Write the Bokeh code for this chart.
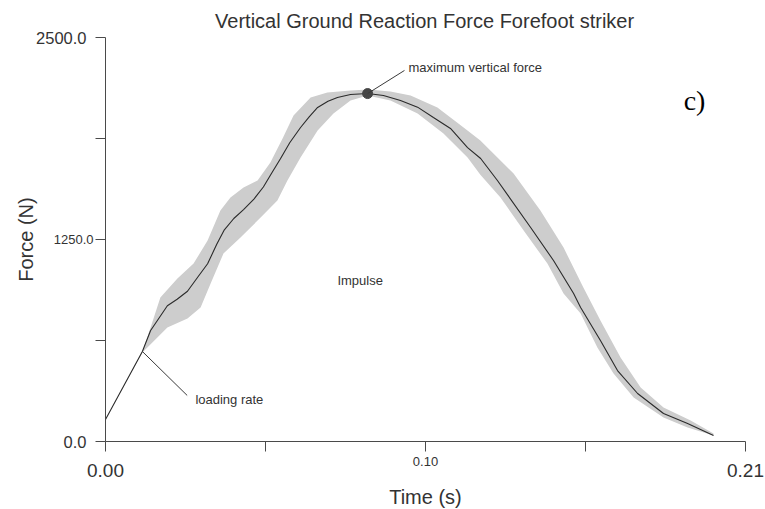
from bokeh.plotting import figure
from bokeh.models import Range1d, FixedTicker, Label, LinearAxis
from bokeh.embed import file_html
from bokeh.resources import INLINE

# Mean vertical ground reaction force (N) over time (s)
time_mean = [0.0, 0.0121, 0.0148, 0.0203, 0.0235, 0.0269, 0.0300, 0.0335, 0.0365, 0.0390,
             0.0421, 0.0453, 0.0487, 0.0518, 0.0545, 0.0574, 0.0605, 0.0640, 0.0669, 0.0696,
             0.0730, 0.0761, 0.0804, 0.0860, 0.0912, 0.0968, 0.1024, 0.1076, 0.1132, 0.1188,
             0.1231, 0.1286, 0.1395, 0.1470, 0.1536, 0.1559, 0.1624, 0.1680, 0.1746, 0.1831,
             0.1910, 0.1995]
force_mean = [136, 557, 687, 840, 880, 930, 1010, 1100, 1220, 1310,
              1380, 1435, 1500, 1575, 1660, 1750, 1850, 1943, 2010, 2067,
              2105, 2129, 2147, 2153, 2141, 2110, 2069, 2005, 1937, 1819,
              1751, 1615, 1324, 1120, 916, 829, 625, 439, 297, 173,
              111, 37]

# Outer (upper) edge of the variability band
time_upper = [0.0, 0.0121, 0.0148, 0.0180, 0.0236, 0.0289, 0.0335, 0.0377, 0.0410, 0.0453,
              0.0499, 0.0541, 0.0581, 0.0617, 0.0673, 0.0728, 0.0804, 0.0860, 0.0935, 0.1001,
              0.1089, 0.1175, 0.1230, 0.1339, 0.1427, 0.1503, 0.1568, 0.1624, 0.1690, 0.1756,
              0.1831, 0.1920, 0.1995]
force_upper = [136, 557, 705, 891, 1009, 1101, 1244, 1429, 1510, 1572,
               1615, 1726, 1875, 2017, 2129, 2160, 2172, 2178, 2166, 2141,
               2067, 1943, 1863, 1658, 1429, 1200, 953, 749, 520, 334,
               210, 130, 50]

# Inner (lower) edge of the variability band
time_lower = [0.0, 0.0121, 0.0203, 0.0269, 0.0312, 0.0345, 0.0387, 0.0443, 0.0509, 0.0564,
              0.0597, 0.0640, 0.0696, 0.0748, 0.0804, 0.0860, 0.0935, 0.1024, 0.1109, 0.1188,
              0.1230, 0.1296, 0.1372, 0.1450, 0.1503, 0.1559, 0.1614, 0.1667, 0.1733, 0.1831,
              0.1910, 0.1995]
force_lower = [136, 551, 705, 761, 829, 978, 1163, 1262, 1386, 1491,
               1615, 1757, 1924, 2030, 2110, 2141, 2110, 2030, 1906, 1757,
               1650, 1510, 1306, 1101, 916, 792, 582, 421, 272, 149,
               87, 37]

peak_time = [0.0860]
peak_force = [2153]

x_ticks = [0.0, 0.0525, 0.105, 0.1575, 0.21]
x_tick_labels = {0.0: "0.00", 0.0525: "", 0.105: "", 0.1575: "", 0.21: "0.21"}
x_mid_tick = [0.105]
x_mid_label = {0.105: "0.10"}
y_ticks = [0, 625, 1250, 1875, 2500]
y_tick_labels = {0: "0.0", 625: "", 1250: "", 1875: "", 2500: "2500.0"}
y_mid_tick = [1250]
y_mid_label = {1250: "1250.0"}

T_MIN, T_MAX = 0.0, 0.21
F_MIN, F_MAX = 0.0, 2500.0

FONT = "Liberation Sans"
AX = "#4a4a4a"
TXT = "#333333"

# The frame covers the whole canvas; the data box (0..0.21 s, 0..2500 N)
# sits inside it with room left for the axes, which are pinned at 0.
W, H = 765, 509
L, R, TOP, BOT = 105, 20, 37, 68
sx = (T_MAX - T_MIN) / (W - L - R)
sy = (F_MAX - F_MIN) / (H - TOP - BOT)
p = figure(width=W, height=H, output_backend="svg", toolbar_location=None, title=None,
           x_range=Range1d(T_MIN - L * sx, T_MAX + R * sx),
           y_range=Range1d(F_MIN - BOT * sy, F_MAX + TOP * sy),
           x_axis_type=None, y_axis_type=None,
           min_border_left=0, min_border_right=0, min_border_top=0, min_border_bottom=0)
p.outline_line_color = None
p.grid.visible = False
p.background_fill_color = "white"
p.border_fill_color = "white"

band_x = time_upper + time_lower[::-1]
band_y = force_upper + force_lower[::-1]
p.patch(band_x, band_y, fill_color="#cdcdcd", line_color=None)
p.line(time_mean, force_mean, line_color="#2a2a2a", line_width=1.1)
p.scatter(peak_time, peak_force, size=10, color="#454545")

# annotation leader lines
p.segment(x0=[0.0121, 0.0860], y0=[557, 2153], x1=[0.0268, 0.0981], y1=[285, 2296],
          line_color="#3a3a3a", line_width=1)

def style(ax, size):
    ax.axis_line_color = AX
    ax.major_tick_line_color = AX
    ax.major_tick_in = 0
    ax.major_tick_out = 10
    ax.minor_tick_line_color = None
    ax.major_label_text_font = FONT
    ax.major_label_text_color = TXT
    ax.major_label_text_font_size = size
    ax.axis_label_text_font = FONT
    ax.axis_label_text_font_style = "normal"
    ax.axis_label_text_color = TXT
    ax.axis_label_text_font_size = "20px"
    ax.fixed_location = 0

xax = LinearAxis(ticker=FixedTicker(ticks=x_ticks), major_label_overrides=x_tick_labels,
                 axis_label="Time (s)", bounds=(T_MIN, T_MAX))
style(xax, "19px")
xax.major_label_standoff = 12
xax.axis_label_standoff = 6
p.add_layout(xax, "below")

xax2 = LinearAxis(ticker=FixedTicker(ticks=x_mid_tick), major_label_overrides=x_mid_label)
style(xax2, "13px")
xax2.axis_line_color = None
xax2.major_tick_line_color = None
xax2.major_label_standoff = 5
p.add_layout(xax2, "below")

yax = LinearAxis(ticker=FixedTicker(ticks=y_ticks), major_label_overrides=y_tick_labels,
                 axis_label="Force (N)", bounds=(F_MIN, F_MAX))
style(yax, "16.5px")
yax.major_label_standoff = 9
yax.axis_label_standoff = -4
p.add_layout(yax, "left")

yax2 = LinearAxis(ticker=FixedTicker(ticks=y_mid_tick), major_label_overrides=y_mid_label)
style(yax2, "13px")
yax2.axis_line_color = None
yax2.major_tick_line_color = None
yax2.major_label_standoff = 2
p.add_layout(yax2, "left")

def lab(x, y, text, size, align="left", font=FONT, color=TXT):
    p.add_layout(Label(x=x, y=y, text=text, text_font=font, text_font_size=size,
                       text_align=align, text_baseline="middle", text_color=color))

lab(0.1047, 2605, "Vertical Ground Reaction Force Forefoot striker", "20px", "center")
lab(0.0994, 2314, "maximum vertical force", "13px")
lab(0.0295, 260, "loading rate", "13px")
lab(0.0761, 996, "Impulse", "13px")
lab(0.1897, 2110, "c)", "28px", font="Liberation Serif", color="#000000")

open("out.html", "w").write(file_html(p, INLINE))
